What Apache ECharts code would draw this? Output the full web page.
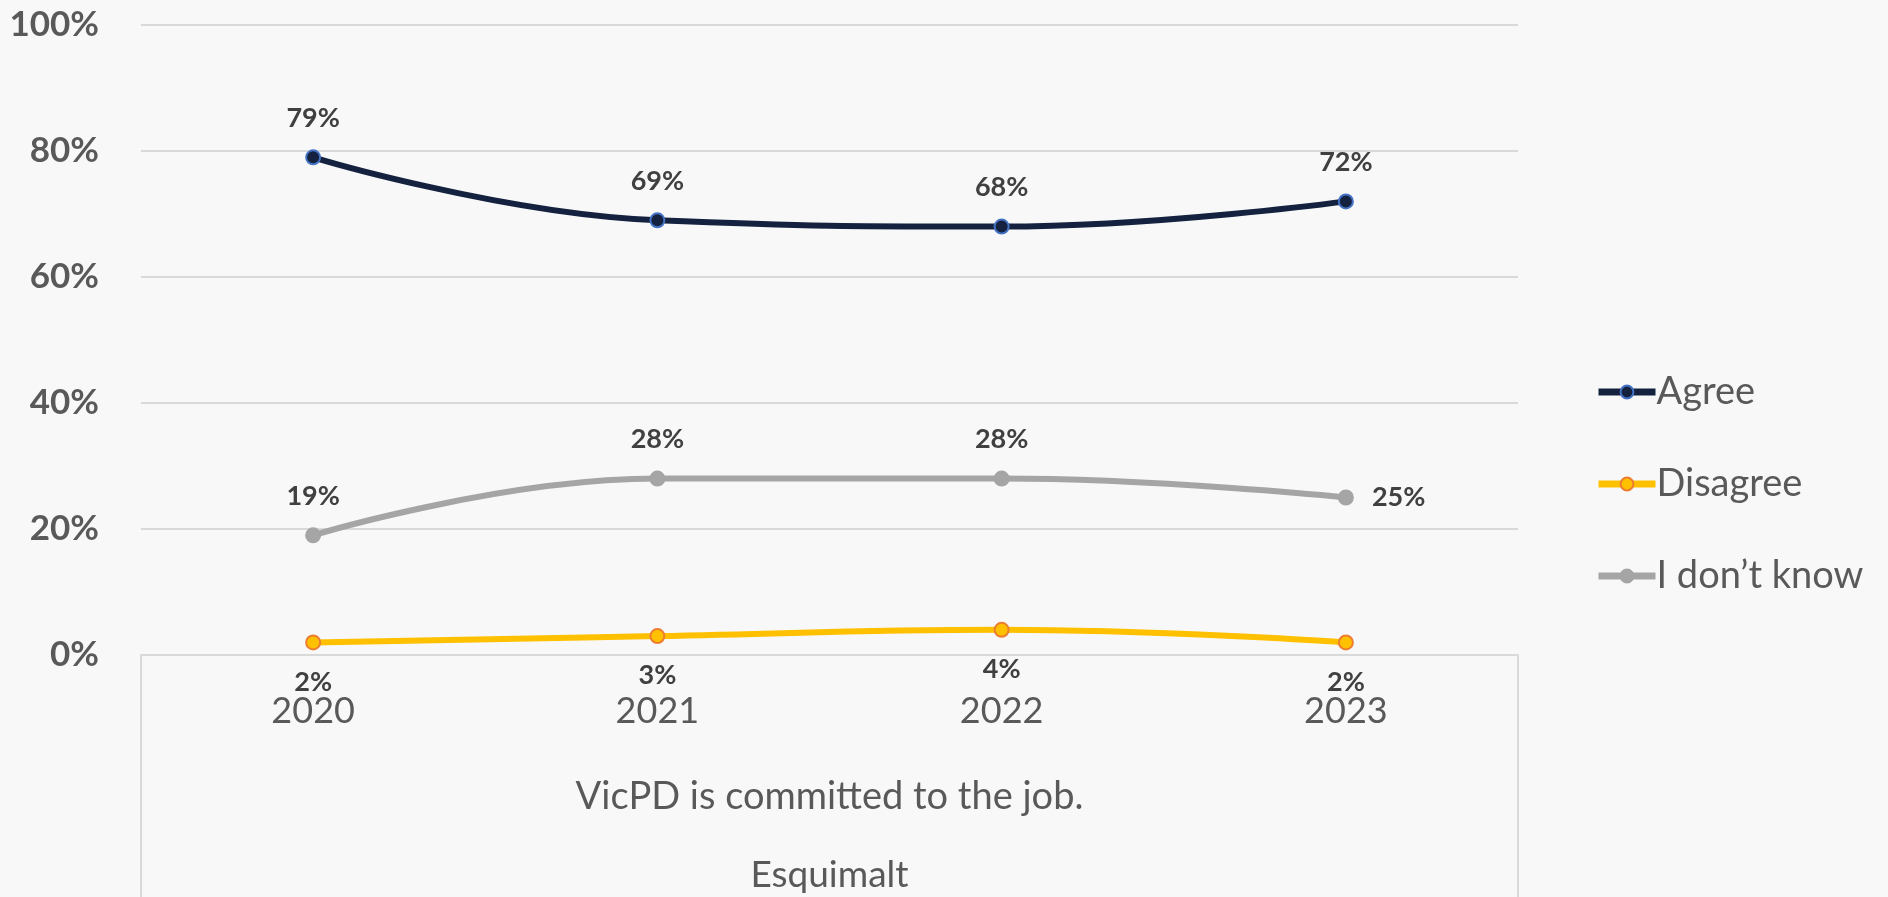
<!DOCTYPE html>
<html>
<head>
  <meta charset="UTF-8">
  <title>VicPD is committed to the job - Esquimalt</title>
  <script src="https://cdn.jsdelivr.net/npm/echarts@6/dist/echarts.min.js"></script>
  <style>
    html, body { margin: 0; padding: 0; background: #f8f8f8; }
    #main { width: 1888px; height: 897px; }
  </style>
</head>
<body>
  <div id="main"></div>
  <script>
    var years = ['2020', '2021', '2022', '2023'];
    var agree = [79, 69, 68, 72];
    var disagree = [2, 3, 4, 2];
    var dontKnow = [19, 28, 28, 25];
    var dontKnowLabelPos = ['top', 'top', 'top', 'right'];
    var question = 'VicPD is committed to the job.';
    var region = 'Esquimalt';

    var font = 'Lato, "Open Sans", sans-serif';
    var chart = echarts.init(document.getElementById('main'));

    function labelStyle(pos) {
      return {
        show: true,
        position: pos,
        distance: 18,
        formatter: '{c}%',
        fontFamily: font,
        fontWeight: 'bold',
        fontSize: 27,
        color: '#404040'
      };
    }

    var option = {
      backgroundColor: '#f8f8f8',
      textStyle: { fontFamily: font },
      grid: { left: 141, right: 370, top: 25, bottom: 242, outerBoundsMode: 'none', containLabel: false },
      legend: {
        orient: 'vertical',
        left: 1590,
        top: 368,
        itemWidth: 57,
        itemHeight: 16,
        itemGap: 54,
        lineStyle: { width: 7 },
        textStyle: { fontFamily: font, fontSize: 38, color: '#595959', padding: [0, 0, 0, -4] },
        data: ['Agree', 'Disagree', 'I don\u2019t know']
      },
      xAxis: [
        {
          type: 'category',
          data: years,
          position: 'bottom',
          name: question,
          nameLocation: 'middle',
          nameGap: 123,
          nameMoveOverlap: false,
          nameTextStyle: { fontFamily: font, fontSize: 38, color: '#595959' },
          axisLine: { show: true, lineStyle: { color: '#d9d9d9', width: 2 } },
          axisTick: { show: false },
          axisLabel: { fontFamily: font, fontSize: 36, color: '#595959', margin: 38 }
        },
        {
          type: 'category',
          data: [region],
          position: 'bottom',
          axisLine: { show: false },
          axisTick: { show: true, length: 260, lineStyle: { color: '#d9d9d9', width: 2 } },
          axisLabel: { fontFamily: font, fontSize: 37, color: '#595959', margin: 202 }
        }
      ],
      yAxis: {
        type: 'value',
        min: 0,
        max: 100,
        interval: 20,
        axisLine: { show: false },
        axisTick: { show: false },
        splitLine: { lineStyle: { color: '#d9d9d9', width: 2 } },
        axisLabel: {
          formatter: '{value}%',
          fontFamily: font,
          fontWeight: 'bold',
          fontSize: 35,
          color: '#595959',
          margin: 42
        }
      },
      series: [
        {
          name: 'Agree',
          type: 'line',
          data: agree,
          smooth: 0.45,
          symbol: 'circle',
          symbolSize: 14,
          lineStyle: { color: '#14223f', width: 6 },
          itemStyle: { color: '#14223f', borderColor: '#4472c4', borderWidth: 2 },
          label: labelStyle('top'),
          z: 3
        },
        {
          name: 'Disagree',
          type: 'line',
          data: disagree,
          smooth: 0.45,
          symbol: 'circle',
          symbolSize: 14,
          lineStyle: { color: '#ffc000', width: 6 },
          itemStyle: { color: '#ffc000', borderColor: '#ed7d31', borderWidth: 2 },
          label: labelStyle('bottom'),
          z: 3
        },
        {
          name: 'I don\u2019t know',
          type: 'line',
          data: dontKnow.map(function (v, i) {
            return { value: v, label: { position: dontKnowLabelPos[i] } };
          }),
          smooth: 0.45,
          symbol: 'circle',
          symbolSize: 14,
          lineStyle: { color: '#a5a5a5', width: 6 },
          itemStyle: { color: '#a5a5a5', borderColor: '#a5a5a5', borderWidth: 2 },
          label: labelStyle('top'),
          z: 3
        }
      ]
    };

    chart.setOption(option);
  </script>
</body>
</html>
